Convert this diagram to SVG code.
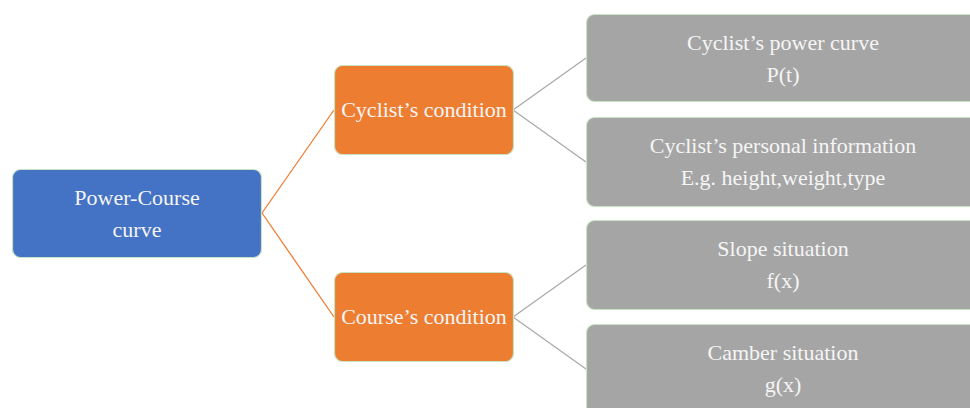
<svg xmlns="http://www.w3.org/2000/svg" width="970" height="408" viewBox="0 0 970 408">
<style>
  .box{stroke:#c9e4c5;stroke-width:1.2}
  .blue{fill:#4472c4}
  .orange{fill:#ed7d31}
  .gray{fill:#a5a5a5}
  text{font-family:"Liberation Serif","Times New Roman",serif;font-size:22px;fill:#f5f5f5;text-anchor:middle}
  .c-or{stroke:#ed7d31;stroke-width:1.3;fill:none}
  .c-gr{stroke:#aaaaaa;stroke-width:1.3;fill:none}
</style>
<rect width="970" height="408" fill="#ffffff"/>
<g id="connectors">
  <path class="c-or" d="M262,213 L334,110"/>
  <path class="c-or" d="M262,213 L334,317"/>
  <path class="c-gr" d="M513,110 L586,58"/>
  <path class="c-gr" d="M513,110 L586,162"/>
  <path class="c-gr" d="M513,317 L586,265"/>
  <path class="c-gr" d="M513,317 L586,369"/>
</g>
<g id="root">
  <rect class="box blue" x="12.5" y="169.5" width="249" height="88" rx="8"/>
  <text x="137" y="205">Power-Course</text>
  <text x="137" y="237">curve</text>
</g>
<g id="cyclist-condition">
  <rect class="box orange" x="334.5" y="65.5" width="179" height="89" rx="8"/>
  <text x="424" y="117">Cyclist’s condition</text>
</g>
<g id="course-condition">
  <rect class="box orange" x="334.5" y="272.5" width="179" height="89" rx="8"/>
  <text x="424" y="324">Course’s condition</text>
</g>
<g id="power-curve">
  <rect class="box gray" x="586.5" y="14.5" width="400" height="87" rx="8"/>
  <text x="783" y="50">Cyclist’s power curve</text>
  <text x="783" y="82">P(t)</text>
</g>
<g id="personal-info">
  <rect class="box gray" x="586.5" y="117.5" width="400" height="89" rx="8"/>
  <text x="783" y="153">Cyclist’s personal information</text>
  <text x="783" y="185">E.g. height,weight,type</text>
</g>
<g id="slope">
  <rect class="box gray" x="586.5" y="220.5" width="400" height="89" rx="8"/>
  <text x="783" y="256">Slope situation</text>
  <text x="783" y="288">f(x)</text>
</g>
<g id="camber">
  <rect class="box gray" x="586.5" y="324.5" width="400" height="100" rx="8"/>
  <text x="783" y="360">Camber situation</text>
  <text x="783" y="392">g(x)</text>
</g>
</svg>
